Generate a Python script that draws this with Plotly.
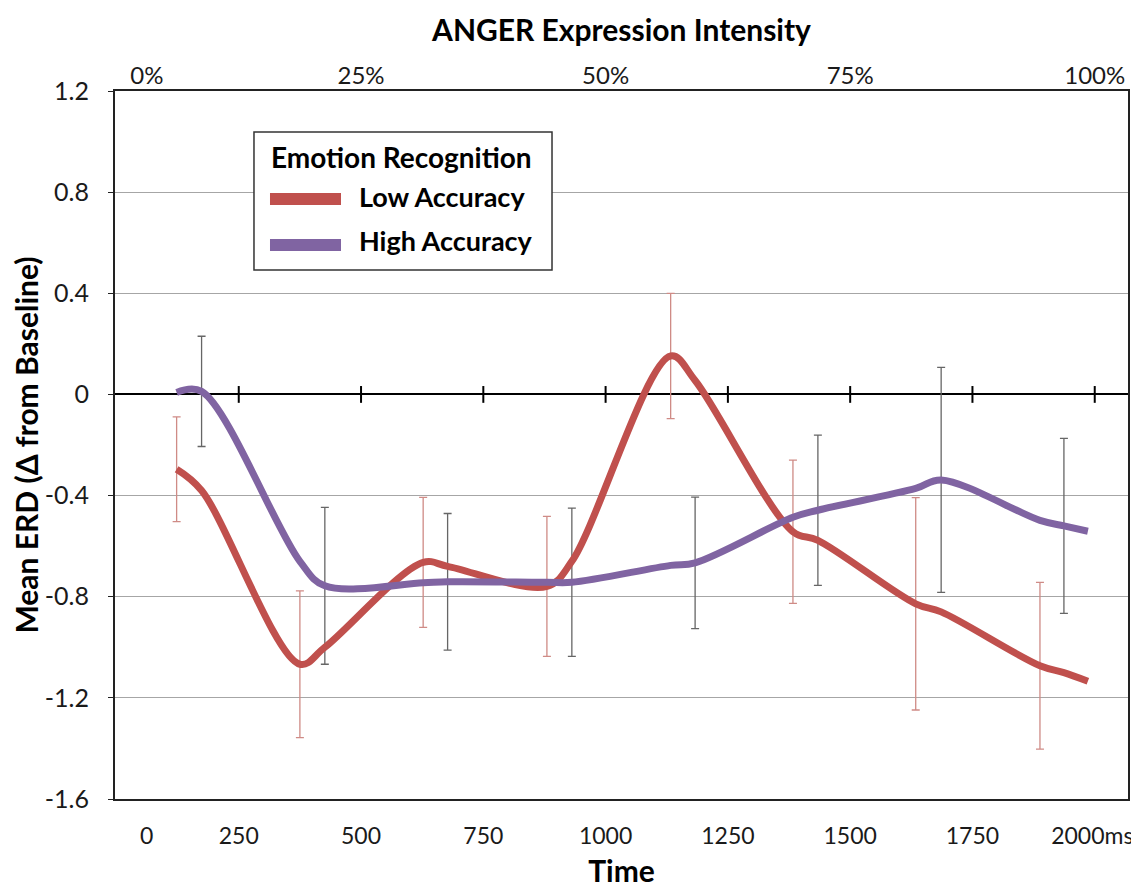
import plotly.graph_objects as go

# ---- data ----
time_ms = [123, 174, 375, 426, 627, 677, 880, 931, 1133, 1183, 1383, 1434, 1634, 1686, 1888, 1937, 1986]
low_accuracy = [-0.296, -0.38, -1.067, -1.00, -0.664, -0.68, -0.759, -0.66, 0.152, 0.055,
                -0.543, -0.577, -0.828, -0.86, -1.073, -1.10, -1.134]
high_accuracy = [0.008, 0.012, -0.66, -0.757, -0.745, -0.741, -0.743, -0.743, -0.676, -0.666,
                 -0.486, -0.458, -0.372, -0.338, -0.498, -0.52, -0.541]

low_err_time = [123, 375, 627, 880, 1133, 1383, 1634, 1888]
low_err_mean = [-0.296, -1.067, -0.664, -0.759, 0.152, -0.543, -0.828, -1.073]
low_err = [0.207, 0.29, 0.257, 0.277, 0.248, 0.283, 0.42, 0.33]

high_err_time = [174, 426, 677, 931, 1183, 1434, 1686, 1937]
high_err_mean = [0.012, -0.757, -0.741, -0.743, -0.666, -0.458, -0.338, -0.52]
high_err = [0.218, 0.31, 0.27, 0.293, 0.26, 0.297, 0.445, 0.346]

time_tick_vals = [62, 250, 500, 750, 1000, 1250, 1500, 1750, 1995]
time_tick_text = ["0", "250", "500", "750", "1000", "1250", "1500", "1750", "2000ms"]
zero_tick_vals = [250, 500, 750, 1000, 1250, 1500, 1750, 2000]
pct_tick_vals = [62, 500, 1000, 1500, 2000]
pct_tick_text = ["0%", "25%", "50%", "75%", "100%"]
y_tick_vals = [1.2, 0.8, 0.4, 0, -0.4, -0.8, -1.2, -1.6]
y_tick_text = ["1.2", "0.8", "0.4", "0", "-0.4", "-0.8", "-1.2", "-1.6"]

RED = "#c0504d"
PURPLE = "#8064a2"
FONT = "Lato"

fig = go.Figure()

# zero line tick marks
fig.add_trace(go.Scatter(
    x=zero_tick_vals, y=[0] * len(zero_tick_vals), mode="markers", xaxis="x2",
    marker=dict(symbol="line-ns", size=12, line=dict(width=2, color="black")),
    hoverinfo="skip", showlegend=False))

# error bars
fig.add_trace(go.Scatter(
    x=low_err_time, y=low_err_mean, mode="markers", marker=dict(size=0.1, color="rgba(0,0,0,0)"),
    error_y=dict(type="data", array=low_err, color="#cf8b86", thickness=1.3, width=4),
    showlegend=False, hoverinfo="skip"))
fig.add_trace(go.Scatter(
    x=high_err_time, y=high_err_mean, mode="markers", marker=dict(size=0.1, color="rgba(0,0,0,0)"),
    error_y=dict(type="data", array=high_err, color="#666666", thickness=1.3, width=4),
    showlegend=False, hoverinfo="skip"))

# lines
fig.add_trace(go.Scatter(
    x=time_ms, y=low_accuracy, mode="lines", name="Low Accuracy",
    line=dict(color=RED, width=7, shape="spline", smoothing=1.0), showlegend=False))
fig.add_trace(go.Scatter(
    x=time_ms, y=high_accuracy, mode="lines", name="High Accuracy",
    line=dict(color=PURPLE, width=7, shape="spline", smoothing=1.0), showlegend=False))

# manual legend (decoration)
fig.add_shape(type="rect", xref="paper", yref="paper", x0=0.1372, x1=0.4314, y0=0.7472, y1=0.9421,
              line=dict(color="#333333", width=1.5), fillcolor="white", layer="above")
fig.add_shape(type="line", xref="paper", yref="paper", x0=0.153, x1=0.2231, y0=0.8475, y1=0.8475,
              line=dict(color=RED, width=12), layer="above")
fig.add_shape(type="line", xref="paper", yref="paper", x0=0.153, x1=0.2231, y0=0.7825, y1=0.7825,
              line=dict(color=PURPLE, width=12), layer="above")
fig.add_annotation(xref="paper", yref="paper", x=0.2833, y=0.9068, text="<b>Emotion Recognition</b>",
                   showarrow=False, xanchor="center", yanchor="middle",
                   font=dict(family=FONT, size=28, color="black"))
fig.add_annotation(xref="paper", yref="paper", x=0.2389, y=0.8503, text="<b>Low Accuracy</b>",
                   showarrow=False, xanchor="left", yanchor="middle",
                   font=dict(family=FONT, size=27, color="black"))
fig.add_annotation(xref="paper", yref="paper", x=0.2389, y=0.7895, text="<b>High Accuracy</b>",
                   showarrow=False, xanchor="left", yanchor="middle",
                   font=dict(family=FONT, size=27, color="black"))

fig.update_layout(
    width=1131, height=880,
    margin=dict(l=107, r=11, t=83, b=89),
    paper_bgcolor="white", plot_bgcolor="white",
    font=dict(family=FONT, color="#1a1a1a"),
    showlegend=False,
    xaxis=dict(
        range=[-3, 2068], tickvals=time_tick_vals, ticktext=time_tick_text,
        tickfont=dict(size=23, color="#1a1a1a"), ticks="", ticklabelstandoff=15,
        ticklabeloverflow="allow",
        showgrid=False, zeroline=False, showline=True, linecolor="#222222", linewidth=2, mirror=True,
        title=dict(text="<b>Time</b>", font=dict(size=30, color="black"), standoff=15),
        automargin=False,
    ),
    xaxis2=dict(
        overlaying="x", side="top", matches="x", range=[-3, 2068],
        tickvals=pct_tick_vals, ticktext=pct_tick_text, tickfont=dict(size=24, color="#1a1a1a"),
        ticks="", ticklabelstandoff=1, showgrid=False, zeroline=False, showline=False,
        ticklabeloverflow="allow",
        title=dict(text="<b>ANGER Expression Intensity</b>", font=dict(size=30, color="black"), standoff=9),
        automargin=False,
    ),
    yaxis=dict(
        range=[-1.6, 1.2], tickvals=y_tick_vals, ticktext=y_tick_text,
        tickfont=dict(size=25, color="#1a1a1a"), ticks="outside", ticklen=5, tickcolor="#222222",
        ticklabelstandoff=14,
        showgrid=True, gridcolor="#a6a6a6", gridwidth=1.2,
        zeroline=True, zerolinecolor="black", zerolinewidth=2.2,
        showline=True, linecolor="#222222", linewidth=2, mirror=True,
        title=dict(text="<b>Mean ERD (Δ from Baseline)</b>", font=dict(size=30, color="black"), standoff=10),
        automargin=False,
    ),
)

fig.write_html("out.html")
